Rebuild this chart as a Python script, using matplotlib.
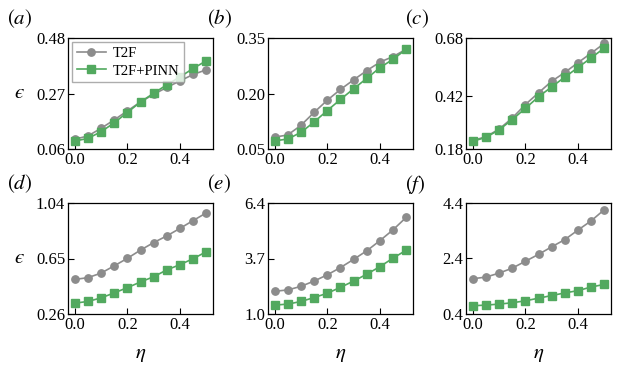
import matplotlib
matplotlib.use("Agg")
import matplotlib.pyplot as plt
import numpy as np

plt.rcParams["font.family"] = ["Liberation Serif", "DejaVu Serif"]
plt.rcParams["mathtext.fontset"] = "stix"
plt.rcParams["font.size"] = 11

eta = [0.0, 0.05, 0.1, 0.15, 0.2, 0.25, 0.3, 0.35, 0.4, 0.45, 0.5]

# T2F (gray) and T2F+PINN (green) for each panel
t2f_a = [0.097, 0.109, 0.138, 0.170, 0.204, 0.238, 0.267, 0.293, 0.318, 0.342, 0.360]
pinn_a = [0.090, 0.100, 0.125, 0.159, 0.198, 0.238, 0.271, 0.303, 0.333, 0.365, 0.394]
t2f_b = [0.082, 0.088, 0.114, 0.149, 0.182, 0.211, 0.237, 0.262, 0.285, 0.300, 0.320]
pinn_b = [0.072, 0.077, 0.095, 0.123, 0.154, 0.184, 0.213, 0.241, 0.270, 0.293, 0.320]
t2f_c = [0.218, 0.235, 0.269, 0.319, 0.380, 0.433, 0.485, 0.525, 0.569, 0.612, 0.656]
pinn_c = [0.215, 0.232, 0.266, 0.312, 0.363, 0.415, 0.460, 0.504, 0.547, 0.591, 0.635]
t2f_d = [0.503, 0.515, 0.547, 0.598, 0.651, 0.709, 0.762, 0.809, 0.862, 0.917, 0.971]
pinn_d = [0.336, 0.348, 0.373, 0.408, 0.445, 0.485, 0.522, 0.570, 0.607, 0.649, 0.698]
t2f_e = [2.106, 2.170, 2.346, 2.603, 2.907, 3.260, 3.660, 4.077, 4.574, 5.103, 5.712]
pinn_e = [1.433, 1.481, 1.609, 1.801, 2.010, 2.298, 2.603, 2.939, 3.308, 3.724, 4.109]
t2f_f = [1.670, 1.729, 1.872, 2.050, 2.299, 2.548, 2.821, 3.082, 3.427, 3.759, 4.163]
pinn_f = [0.697, 0.720, 0.756, 0.804, 0.875, 0.970, 1.065, 1.160, 1.243, 1.373, 1.468]

yticks = {
    "a": [0.06, 0.27, 0.48],
    "b": [0.05, 0.20, 0.35],
    "c": [0.18, 0.42, 0.68],
    "d": [0.26, 0.65, 1.04],
    "e": [1.0, 3.7, 6.4],
    "f": [0.4, 2.4, 4.4],
}
ytick_fmt = {"a": "%.2f", "b": "%.2f", "c": "%.2f", "d": "%.2f", "e": "%.1f", "f": "%.1f"}
series = {
    "a": (t2f_a, pinn_a), "b": (t2f_b, pinn_b), "c": (t2f_c, pinn_c),
    "d": (t2f_d, pinn_d), "e": (t2f_e, pinn_e), "f": (t2f_f, pinn_f),
}

gray = "#8c8c8c"
green = "#52a95f"

W, H = 634, 366
fig = plt.figure(figsize=(W / 100, H / 100), dpi=100)

lefts = [68, 268, 466]
tops = [38, 203]
aw, ah = 145, 111

for i, key in enumerate("abcdef"):
    row, col = divmod(i, 3)
    l, t = lefts[col], tops[row]
    ax = fig.add_axes([l / W, 1 - (t + ah) / H, aw / W, ah / H])
    g, p = series[key]
    ax.plot(eta, g, "-o", color=gray, ms=5.3, lw=1.2, label="T2F", zorder=2)
    ax.plot(eta, p, "-s", color=green, ms=5.3, lw=1.2, label="T2F+PINN", zorder=3)
    ax.set_xlim(-0.025, 0.525)
    ax.set_ylim(yticks[key][0], yticks[key][-1])
    ax.set_xticks([0.0, 0.2, 0.4])
    ax.set_xticklabels(["0.0", "0.2", "0.4"])
    ax.set_yticks(yticks[key])
    ax.set_yticklabels([ytick_fmt[key] % v for v in yticks[key]])
    ax.tick_params(direction="in", length=4, width=0.8, labelsize=12, pad=2)
    for s in ax.spines.values():
        s.set_linewidth(0.9)
    ax.text(-0.42, 1.17, "$(%s)$" % key, transform=ax.transAxes, fontsize=15,
            ha="left", va="center")
    if col == 0:
        ax.set_ylabel("$\u03f5$", fontsize=15, rotation=0, labelpad=12, va="center")
    if row == 1:
        ax.set_xlabel(r"$\eta$", fontsize=15, labelpad=9)
    if key == "a":
        ax.legend(loc="upper left", fontsize=10.5, frameon=True, fancybox=False,
                  edgecolor="#999999", handlelength=2.0, borderpad=0.3,
                  labelspacing=0.3, handletextpad=0.5, borderaxespad=0.3,
                  bbox_to_anchor=(0.0, 1.0))

fig.savefig("out.png", dpi=100)
